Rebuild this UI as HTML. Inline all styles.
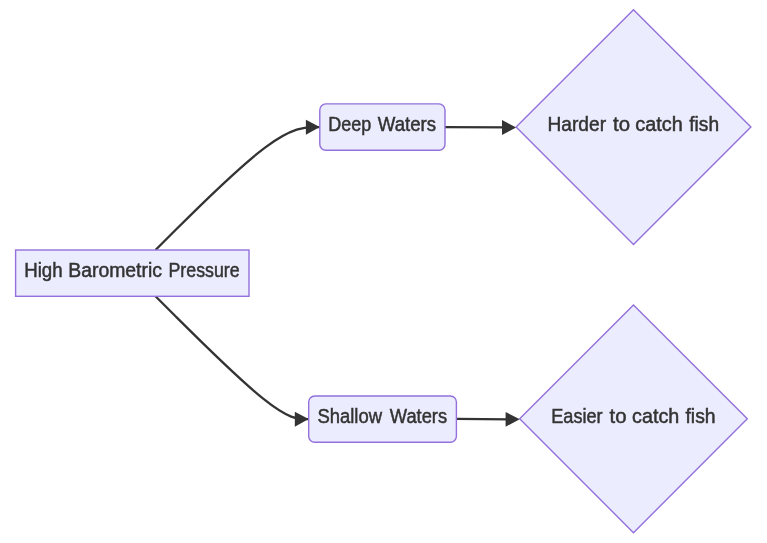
<!DOCTYPE html>
<html><head><meta charset="utf-8">
<style>
html,body{margin:0;padding:0;background:#fff;width:767px;height:543px;overflow:hidden}
svg{display:block;will-change:transform}
text{font-family:"Liberation Sans",sans-serif;fill:#333;stroke:#333;stroke-width:0.5px;text-anchor:start}
</style></head>
<body>
<svg width="767" height="543" viewBox="0 0 767 543" xmlns="http://www.w3.org/2000/svg">
<g fill="none" stroke="#333" stroke-width="2.3">
<path d="M155.50,250.00L176.03,229.52C196.57,209.03 237.63,168.07 265.02,147.58C292.40,127.10 306.10,127.10 312.95,127.10L319.80,127.10"/>
<path d="M155.50,296.30L176.03,316.78C196.57,337.25 237.63,378.20 263.17,398.67C288.70,419.15 298.70,419.15 303.70,419.15L308.70,419.15"/>
<path d="M445,127.2L510,127.45"/>
<path d="M456.4,418.9L512,419.4"/>
</g>
<g fill="#333">
<polygon points="305.9,119.8 319.8,127.1 305.9,134.7"/>
<polygon points="294.8,411.8 308.6,419.1 294.8,426.7"/>
<polygon points="502.0,120.1 516.2,127.4 502.0,134.9"/>
<polygon points="505.6,411.9 519.7,419.2 505.6,426.7"/>
</g>
<g fill="#ECECFF" stroke="#9370DB" stroke-width="1.4">
<rect x="15.6" y="250" width="233.4" height="46.3"/>
<rect x="319.8" y="103.9" width="125.2" height="46.4" rx="6" ry="6"/>
<rect x="308.7" y="396" width="147.7" height="46.3" rx="6" ry="6"/>
<polygon points="633.5,9.7 750.9,127.1 633.5,244.5 516.1,127.1"/>
<polygon points="633.5,304.9 747.3,418.8 633.5,532.7 519.7,418.8"/>
</g>
<g font-size="20.35">
<text transform="translate(24.14,276.7) scale(0.9194,1)">High</text>
<text transform="translate(68.19,276.7) scale(0.9540,1)">Barometric</text>
<text transform="translate(168.50,276.7) scale(0.8731,1)">Pressure</text>
<text transform="translate(328.28,130.9) scale(0.8836,1)">Deep</text>
<text transform="translate(377.73,130.9) scale(0.9168,1)">Waters</text>
<text transform="translate(317.43,422.6) scale(0.9070,1)">Shallow</text>
<text transform="translate(389.82,422.6) scale(0.8994,1)">Waters</text>
<text transform="translate(547.51,130.7) scale(0.9416,1)">Harder</text>
<text transform="translate(613.10,130.7) scale(1.0015,1)">to</text>
<text transform="translate(635.29,130.7) scale(0.9749,1)">catch</text>
<text transform="translate(689.30,130.7) scale(0.9404,1)">fish</text>
<text transform="translate(551.28,422.6) scale(0.8907,1)">Easier</text>
<text transform="translate(609.60,422.6) scale(1.0015,1)">to</text>
<text transform="translate(632.09,422.6) scale(0.9707,1)">catch</text>
<text transform="translate(685.50,422.6) scale(0.9502,1)">fish</text>
</g>
</svg>
</body></html>
